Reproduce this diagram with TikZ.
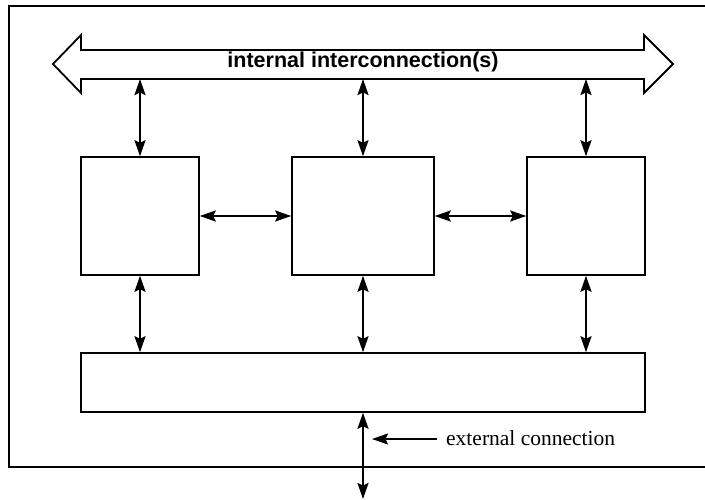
\documentclass[tikz,border=0pt]{standalone}
\usepackage{fontspec}
\setmainfont{Liberation Serif}
\newfontfamily\labelsans{Liberation Sans}
\usetikzlibrary{arrows.meta}
\begin{document}
\begin{tikzpicture}[x=1pt,y=-1pt,
  tip/.tip={Stealth[length=16pt,width=11pt,inset=2.5pt]},
  unitbox/.style={draw, line width=1.5pt, inner sep=0pt, fill=white},
  link/.style={line width=1.9pt, tip-tip},
  pointer/.style={line width=1.6pt, -tip},
  ]
  \useasboundingbox (0,0) rectangle (705,499);
  % outer enclosure (right side runs past the edge)
  \draw[line width=1.8pt] (712,6) -- (9,6) -- (9,467) -- (712,467);

  % wide double arrow: internal interconnection(s)
  \draw[line width=1.8pt, line join=miter, fill=white]
    (53,64) -- (81,35) -- (81,50) -- (644,50) -- (644,35) -- (673,64)
    -- (644,93) -- (644,79) -- (81,79) -- (81,93) -- cycle;
  \node (bus) at (363,62) {\labelsans\bfseries\fontsize{21.5}{24}\selectfont internal interconnection(s)};
  \coordinate (busL) at (140,79);
  \coordinate (busM) at (363,79);
  \coordinate (busR) at (586,79);

  % processing units
  \node[unitbox, minimum width=118pt, minimum height=118pt] (u1) at (140,216) {};
  \node[unitbox, minimum width=142pt, minimum height=118pt] (u2) at (363,216) {};
  \node[unitbox, minimum width=118pt, minimum height=118pt] (u3) at (586,216) {};

  % interface block
  \node[unitbox, minimum width=564pt, minimum height=59pt] (io) at (363,382.5) {};

  % links to the interconnection
  \draw[link] (busL) -- (u1.north);
  \draw[link] (busM) -- (u2.north);
  \draw[link] (busR) -- (u3.north);

  % links between neighbouring units
  \draw[link] (u1.east) -- (u2.west);
  \draw[link] (u2.east) -- (u3.west);

  % links to the interface block
  \draw[link] (u1.south) -- (u1.south |- io.north);
  \draw[link] (u2.south) -- (u2.south |- io.north);
  \draw[link] (u3.south) -- (u3.south |- io.north);

  % external connection
  \coordinate (ext) at (363,499);
  \draw[link] (io.south) -- (ext);
  \node[anchor=west, inner sep=0pt] (extlabel) at (446,438)
    {\fontsize{21.5}{24}\selectfont external connection};
  \coordinate (extarrow) at (437,439);
  \draw[pointer] (extarrow) -- (372,439);
\end{tikzpicture}
\end{document}
